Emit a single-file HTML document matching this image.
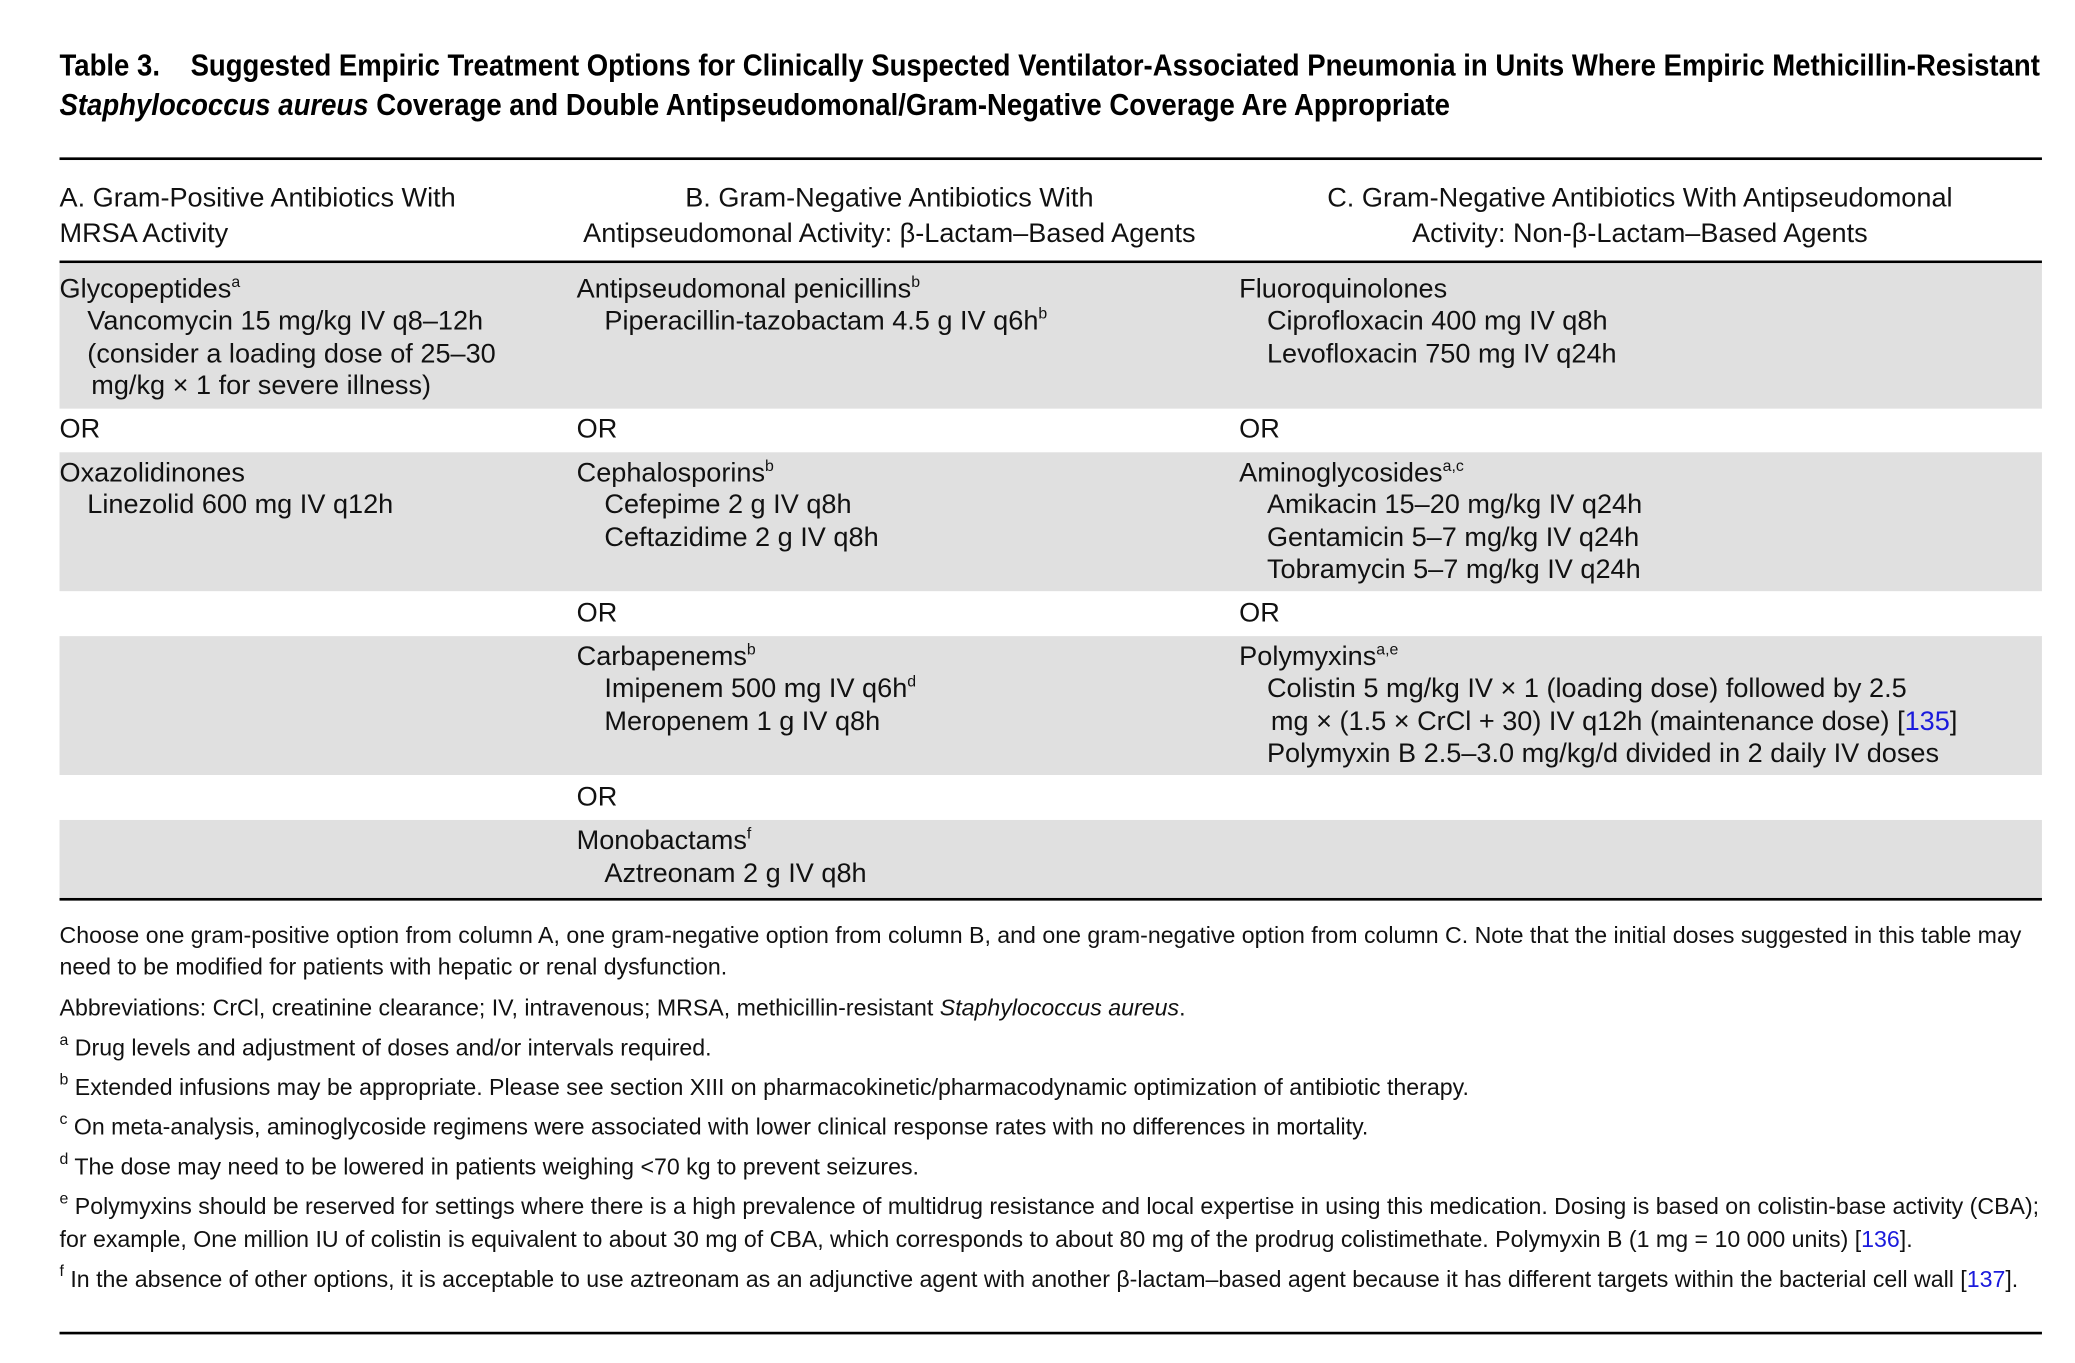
<!DOCTYPE html>
<html><head><meta charset="utf-8">
<style>
html,body{margin:0;padding:0;background:#fff;}
body{width:2075px;height:1363px;overflow:hidden;position:relative;}
#wrap{position:absolute;left:0;top:0;width:1552px;height:1020px;transform:scale(1.3225);transform-origin:0 0;}
.t{position:absolute;white-space:nowrap;line-height:24px;height:24px;color:#111;font-family:"Liberation Sans",sans-serif;}
.title{font-weight:bold;font-size:23px;color:#000;transform:scaleX(0.905);transform-origin:0 50%;}
.b{font-size:20.5px;}
.f{font-size:17.5px;}
.rule{position:absolute;left:45px;width:1499px;background:#000;}
.gray{position:absolute;left:45px;width:1499px;background:#e0e0e0;}
sup{font-size:12px;vertical-align:0;position:relative;top:-8px;}
.lnk{color:#1a1adc;}
</style></head><body>
<div id="wrap">
<div class="t title" style="left:45px;top:37px;">Table 3.&nbsp;&nbsp;&nbsp; Suggested Empiric Treatment Options for Clinically Suspected Ventilator-Associated Pneumonia in Units Where Empiric Methicillin-Resistant</div>
<div class="t title" style="left:45px;top:67px;"><i>Staphylococcus aureus</i> Coverage and Double Antipseudomonal/Gram-Negative Coverage Are Appropriate</div>

<div class="rule" style="top:119px;height:2px;"></div>
<div class="t b" style="left:45px;top:138px;">A. Gram-Positive Antibiotics With</div>
<div class="t b" style="left:45px;top:165px;">MRSA Activity</div>
<div class="t b" style="left:436px;width:473px;text-align:center;top:138px;">B. Gram-Negative Antibiotics With</div>
<div class="t b" style="left:436px;width:473px;text-align:center;top:165px;">Antipseudomonal Activity: β-Lactam–Based Agents</div>
<div class="t b" style="left:940px;width:600px;text-align:center;top:138px;">C. Gram-Negative Antibiotics With Antipseudomonal</div>
<div class="t b" style="left:940px;width:600px;text-align:center;top:165px;">Activity: Non-β-Lactam–Based Agents</div>
<div class="rule" style="top:197px;height:1.5px;"></div>

<div class="gray" style="top:199px;height:110px;"></div>
<div class="gray" style="top:342px;height:105px;"></div>
<div class="gray" style="top:481px;height:105px;"></div>
<div class="gray" style="top:620px;height:60px;"></div>

<div class="t b" style="left:45px;top:207px;">Glycopeptides<sup>a</sup></div>
<div class="t b" style="left:66px;top:231px;">Vancomycin 15 mg/kg IV q8–12h</div>
<div class="t b" style="left:66px;top:256px;">(consider a loading dose of 25–30</div>
<div class="t b" style="left:69px;top:280px;">mg/kg × 1 for severe illness)</div>
<div class="t b" style="left:436px;top:207px;">Antipseudomonal penicillins<sup>b</sup></div>
<div class="t b" style="left:457px;top:231px;">Piperacillin-tazobactam 4.5 g IV q6h<sup>b</sup></div>
<div class="t b" style="left:937px;top:207px;">Fluoroquinolones</div>
<div class="t b" style="left:958px;top:231px;">Ciprofloxacin 400 mg IV q8h</div>
<div class="t b" style="left:958px;top:256px;">Levofloxacin 750 mg IV q24h</div>

<div class="t b" style="left:45px;top:313px;">OR</div>
<div class="t b" style="left:436px;top:313px;">OR</div>
<div class="t b" style="left:937px;top:313px;">OR</div>

<div class="t b" style="left:45px;top:346px;">Oxazolidinones</div>
<div class="t b" style="left:66px;top:370px;">Linezolid 600 mg IV q12h</div>
<div class="t b" style="left:436px;top:346px;">Cephalosporins<sup>b</sup></div>
<div class="t b" style="left:457px;top:370px;">Cefepime 2 g IV q8h</div>
<div class="t b" style="left:457px;top:395px;">Ceftazidime 2 g IV q8h</div>
<div class="t b" style="left:937px;top:346px;">Aminoglycosides<sup>a,c</sup></div>
<div class="t b" style="left:958px;top:370px;">Amikacin 15–20 mg/kg IV q24h</div>
<div class="t b" style="left:958px;top:395px;">Gentamicin 5–7 mg/kg IV q24h</div>
<div class="t b" style="left:958px;top:419px;">Tobramycin 5–7 mg/kg IV q24h</div>

<div class="t b" style="left:436px;top:452px;">OR</div>
<div class="t b" style="left:937px;top:452px;">OR</div>

<div class="t b" style="left:436px;top:485px;">Carbapenems<sup>b</sup></div>
<div class="t b" style="left:457px;top:509px;">Imipenem 500 mg IV q6h<sup>d</sup></div>
<div class="t b" style="left:457px;top:534px;">Meropenem 1 g IV q8h</div>
<div class="t b" style="left:937px;top:485px;">Polymyxins<sup>a,e</sup></div>
<div class="t b" style="left:958px;top:509px;">Colistin 5 mg/kg IV × 1 (loading dose) followed by 2.5</div>
<div class="t b" style="left:961px;top:534px;">mg × (1.5 × CrCl + 30) IV q12h (maintenance dose) [<span class="lnk">135</span>]</div>
<div class="t b" style="left:958px;top:558px;">Polymyxin B 2.5–3.0 mg/kg/d divided in 2 daily IV doses</div>

<div class="t b" style="left:436px;top:591px;">OR</div>
<div class="t b" style="left:436px;top:624px;">Monobactams<sup>f</sup></div>
<div class="t b" style="left:457px;top:649px;">Aztreonam 2 g IV q8h</div>

<div class="rule" style="top:679px;height:1.5px;"></div>

<div class="t f" style="left:45px;top:695px;">Choose one gram-positive option from column A, one gram-negative option from column B, and one gram-negative option from column C. Note that the initial doses suggested in this table may</div>
<div class="t f" style="left:45px;top:719px;">need to be modified for patients with hepatic or renal dysfunction.</div>
<div class="t f" style="left:45px;top:750px;">Abbreviations: CrCl, creatinine clearance; IV, intravenous; MRSA, methicillin-resistant <i>Staphylococcus aureus</i>.</div>
<div class="t f" style="left:45px;top:780px;"><sup>a</sup> Drug levels and adjustment of doses and/or intervals required.</div>
<div class="t f" style="left:45px;top:810px;"><sup>b</sup> Extended infusions may be appropriate. Please see section XIII on pharmacokinetic/pharmacodynamic optimization of antibiotic therapy.</div>
<div class="t f" style="left:45px;top:840px;"><sup>c</sup> On meta-analysis, aminoglycoside regimens were associated with lower clinical response rates with no differences in mortality.</div>
<div class="t f" style="left:45px;top:870px;"><sup>d</sup> The dose may need to be lowered in patients weighing &lt;70 kg to prevent seizures.</div>
<div class="t f" style="left:45px;top:900px;"><sup>e</sup> Polymyxins should be reserved for settings where there is a high prevalence of multidrug resistance and local expertise in using this medication. Dosing is based on colistin-base activity (CBA);</div>
<div class="t f" style="left:45px;top:925px;">for example, One million IU of colistin is equivalent to about 30 mg of CBA, which corresponds to about 80 mg of the prodrug colistimethate. Polymyxin B (1 mg = 10 000 units) [<span class="lnk">136</span>].</div>
<div class="t f" style="left:45px;top:955px;"><sup>f</sup> In the absence of other options, it is acceptable to use aztreonam as an adjunctive agent with another β-lactam–based agent because it has different targets within the bacterial cell wall [<span class="lnk">137</span>].</div>

<div class="rule" style="top:1007px;height:2px;"></div>
</div>
</body></html>
